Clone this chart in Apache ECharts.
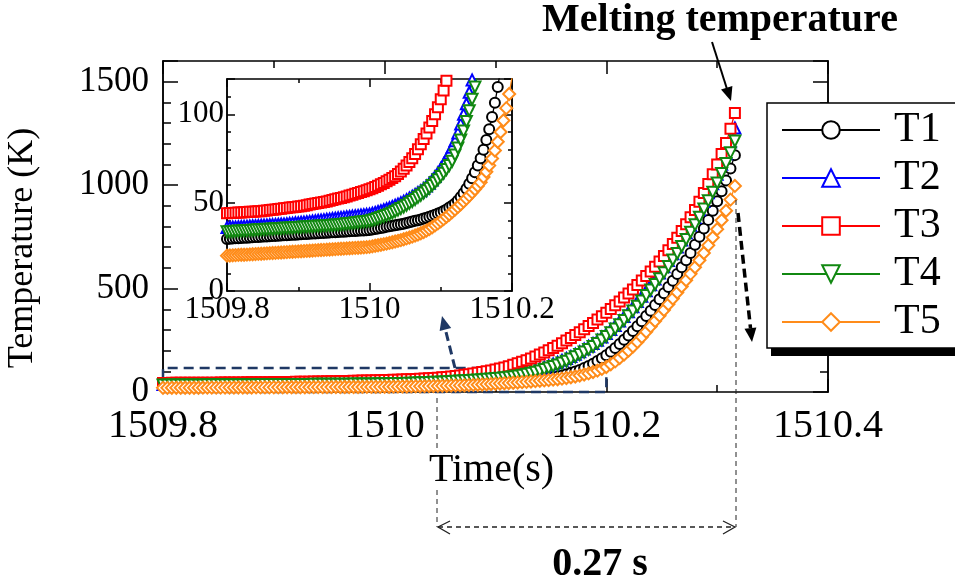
<!DOCTYPE html>
<html>
<head>
<meta charset="utf-8">
<script src="https://cdn.jsdelivr.net/npm/echarts@6/dist/echarts.min.js"></script>
<style>
  html, body { margin: 0; padding: 0; background: #fff; }
  #chart { width: 955px; height: 578px; }
</style>
</head>
<body>
<div id="chart"></div>
<script>
  // sampling times (s)
  var times = [
    1509.800, 1509.804, 1509.808, 1509.812, 1509.816, 1509.820, 1509.824, 1509.828, 1509.832, 1509.836,
    1509.840, 1509.844, 1509.848, 1509.852, 1509.856, 1509.860, 1509.864, 1509.868, 1509.872, 1509.876,
    1509.880, 1509.884, 1509.888, 1509.892, 1509.896, 1509.900, 1509.904, 1509.908, 1509.912, 1509.916,
    1509.920, 1509.924, 1509.928, 1509.932, 1509.936, 1509.940, 1509.944, 1509.948, 1509.952, 1509.956,
    1509.960, 1509.964, 1509.968, 1509.972, 1509.976, 1509.980, 1509.984, 1509.988, 1509.992, 1509.996,
    1510.000, 1510.004, 1510.008, 1510.012, 1510.016, 1510.020, 1510.024, 1510.028, 1510.032, 1510.036,
    1510.040, 1510.044, 1510.048, 1510.052, 1510.056, 1510.060, 1510.064, 1510.068, 1510.072, 1510.076,
    1510.080, 1510.084, 1510.088, 1510.092, 1510.096, 1510.100, 1510.104, 1510.108, 1510.112, 1510.116,
    1510.120, 1510.124, 1510.128, 1510.132, 1510.136, 1510.140, 1510.144, 1510.148, 1510.152, 1510.156,
    1510.160, 1510.164, 1510.168, 1510.172, 1510.176, 1510.180, 1510.184, 1510.188, 1510.192, 1510.196,
    1510.200, 1510.204, 1510.208, 1510.212, 1510.216, 1510.220, 1510.224, 1510.228, 1510.232, 1510.236,
    1510.240, 1510.244, 1510.248, 1510.252, 1510.256, 1510.260, 1510.264, 1510.268, 1510.272, 1510.276,
    1510.280, 1510.284, 1510.288, 1510.292, 1510.296, 1510.300, 1510.304, 1510.308, 1510.312, 1510.316
  ]

  // temperatures (K)
  var t1 = [
    29.5, 29.6, 29.7, 29.8, 29.9, 30.0, 30.1, 30.2, 30.3, 30.4,
    30.5, 30.6, 30.7, 30.8, 30.9, 31.0, 31.1, 31.2, 31.3, 31.4,
    31.5, 31.6, 31.7, 31.8, 31.9, 32.0, 32.1, 32.2, 32.3, 32.4,
    32.5, 32.6, 32.7, 32.8, 32.9, 33.0, 33.1, 33.2, 33.3, 33.4,
    33.5, 33.6, 33.7, 33.8, 33.9, 34.0, 34.1, 34.2, 34.3, 34.4,
    34.5, 34.8, 35.1, 35.4, 35.7, 36.0, 36.3, 36.6, 36.9, 37.2,
    37.5, 37.8, 38.1, 38.5, 38.9, 39.3, 39.7, 40.1, 40.5, 41.0,
    41.5, 42.0, 42.6, 43.2, 43.8, 44.5, 45.3, 46.2, 47.2, 48.3,
    49.5, 51.2, 53.2, 55.4, 57.9, 60.7, 63.8, 67.2, 71.0, 75.2,
    80, 85.5, 91.5, 98.5, 106.5, 115.5, 125.5, 137, 149.5, 163,
    178, 195, 213, 232, 252, 273, 295, 318, 342, 367,
    393, 420, 448, 477, 507, 538, 570, 603, 637, 672,
    712, 750, 790, 832, 876, 922, 970, 1022, 1080, 1145
  ]
  var t2 = [
    36.0, 36.1, 36.2, 36.3, 36.4, 36.5, 36.6, 36.7, 36.8, 36.9,
    37.0, 37.1, 37.2, 37.3, 37.4, 37.5, 37.6, 37.7, 37.8, 37.9,
    38.0, 38.1, 38.3, 38.4, 38.6, 38.7, 38.9, 39.0, 39.2, 39.4,
    39.6, 39.8, 40.0, 40.2, 40.4, 40.6, 40.8, 41.0, 41.2, 41.4,
    41.6, 41.8, 42.0, 42.2, 42.4, 42.6, 42.8, 43.0, 43.2, 43.4,
    43.6, 44.0, 44.5, 45.0, 45.5, 46.0, 46.6, 47.2, 47.8, 48.5,
    49.2, 50.0, 50.8, 51.7, 52.6, 53.6, 54.6, 55.7, 56.8, 58.0,
    59.4, 61.0, 62.8, 64.8, 67.0, 69.4, 72.0, 74.9, 78.0, 81.4,
    85.0, 89.5, 94.5, 100, 106, 112.5, 119.5, 127, 135, 144,
    153, 162, 172, 183, 195, 208, 221, 235, 250, 266,
    283, 302, 322, 343, 365, 388, 412, 437, 463, 490,
    518, 546, 575, 605, 636, 668, 701, 735, 770, 806,
    843, 881, 921, 963, 1007, 1053, 1101, 1152, 1210, 1276
  ]
  var t3 = [
    44.0, 44.1, 44.2, 44.3, 44.4, 44.5, 44.6, 44.7, 44.8, 44.9,
    45.0, 45.1, 45.2, 45.4, 45.6, 45.8, 46.0, 46.2, 46.4, 46.6,
    46.8, 47.0, 47.2, 47.4, 47.6, 47.8, 48.0, 48.3, 48.6, 48.9,
    49.2, 49.5, 49.8, 50.1, 50.4, 50.7, 51.1, 51.5, 51.9, 52.3,
    52.7, 53.1, 53.5, 54.0, 54.5, 55.0, 55.5, 56.0, 56.5, 57.0,
    57.6, 58.2, 58.9, 59.6, 60.4, 61.2, 62.1, 63.0, 64.0, 65.0,
    66.2, 67.6, 69.2, 71.0, 73.0, 75.2, 77.6, 80.2, 83.0, 86.0,
    89.2, 92.6, 96.2, 100, 104, 108.5, 113.5, 119, 125, 131.5,
    138.5, 146, 154, 162.5, 171.5, 181, 191, 201.5, 212.5, 224,
    236, 248.5, 261.5, 275, 289, 303.5, 318.5, 334, 350, 366.5,
    383.5, 401, 419, 437.5, 456.5, 476, 496, 517, 538.5, 560.5,
    582, 606, 631, 657, 685, 715, 746, 778, 811, 845,
    880, 920, 962, 1006, 1052, 1100, 1150, 1204, 1272, 1349
  ]
  var t4 = [
    33.5, 33.6, 33.7, 33.8, 33.9, 34.0, 34.1, 34.2, 34.3, 34.4,
    34.5, 34.6, 34.7, 34.8, 34.9, 35.0, 35.1, 35.2, 35.3, 35.4,
    35.5, 35.6, 35.7, 35.8, 35.9, 36.0, 36.1, 36.2, 36.3, 36.4,
    36.5, 36.6, 36.7, 36.8, 36.9, 37.0, 37.1, 37.2, 37.3, 37.4,
    37.6, 37.8, 38.0, 38.2, 38.4, 38.6, 38.8, 39.0, 39.2, 39.4,
    39.6, 40.0, 40.5, 41.0, 41.6, 42.2, 42.8, 43.5, 44.2, 45.0,
    45.8, 46.7, 47.6, 48.6, 49.6, 50.7, 51.8, 53.0, 54.2, 55.5,
    56.8, 58.2, 59.7, 61.3, 63.0, 64.8, 66.7, 68.8, 71.0, 73.5,
    77, 81, 85.5, 90.5, 96, 102, 108.5, 115.5, 123, 131,
    140, 149, 159, 170, 181, 193, 206, 220, 235, 251,
    268, 286, 305, 325, 346, 368, 391, 415, 440, 466,
    493, 520, 548, 577, 607, 638, 670, 703, 737, 772,
    808, 845, 884, 924, 966, 1010, 1056, 1104, 1156, 1213
  ]
  var t5 = [
    20.0, 20.1, 20.2, 20.3, 20.4, 20.5, 20.5, 20.6, 20.7, 20.8,
    20.9, 21.0, 21.1, 21.2, 21.3, 21.4, 21.5, 21.6, 21.7, 21.8,
    21.9, 22.0, 22.1, 22.2, 22.3, 22.4, 22.5, 22.6, 22.7, 22.8,
    22.9, 23.0, 23.1, 23.2, 23.3, 23.4, 23.5, 23.6, 23.7, 23.8,
    23.9, 24.0, 24.1, 24.2, 24.3, 24.4, 24.5, 24.6, 24.7, 24.8,
    25.0, 25.3, 25.6, 25.9, 26.2, 26.5, 26.8, 27.2, 27.6, 28.0,
    28.4, 28.8, 29.3, 29.8, 30.3, 30.8, 31.4, 32.0, 32.7, 33.4,
    34.2, 35.1, 36.1, 37.2, 38.3, 39.5, 40.7, 42.0, 43.3, 44.7,
    46.1, 47.6, 49.1, 50.7, 52.3, 54.0, 55.8, 57.6, 59.5, 61.5,
    64.5, 67.5, 71, 75, 79.5, 84.5, 90, 96.5, 103.5, 111.5,
    121, 134, 148, 164, 181, 200, 220, 242, 266, 291,
    317, 343, 369, 396, 424, 452, 481, 510, 540, 571,
    603, 637, 672, 709, 747, 787, 830, 876, 930, 996
  ]

  var seriesNames = ['T1', 'T2', 'T3', 'T4', 'T5']
  var seriesValues = [t1, t2, t3, t4, t5]
  var seriesColors = ['#000000', '#0000ff', '#ff0000', '#118811', '#ff8c1a']
  var seriesSymbols = ['emptyCircle', 'emptyTriangle', 'emptyRect', 'emptyTriangle', 'emptyDiamond']
  var symbolRotates = [0, 0, 0, 180, 0]
  var symbolSizes = [10, 11, 10, 11, 12]

  var serif = 'Liberation Serif'
  var black = { color: '#000', width: 1.5 }

  var chart = echarts.init(document.getElementById('chart'))

  function makeSeries (i, xi, yi) {
    var vals = seriesValues[i]
    return {
      name: seriesNames[i],
      type: 'line',
      xAxisIndex: xi,
      yAxisIndex: yi,
      data: times.map(function (t, k) { return [t, vals[k]] }),
      symbol: seriesSymbols[i],
      symbolSize: symbolSizes[i],
      symbolRotate: symbolRotates[i],
      showSymbol: true,
      itemStyle: { color: seriesColors[i], borderWidth: 1.3 },
      lineStyle: { color: seriesColors[i], width: 1.3 },
      emphasis: { disabled: true },
      silent: true,
      z: 3
    }
  }

  var series = []
  for (var i = 0; i < 5; i++) series.push(makeSeries(i, 0, 0))
  for (var j = 0; j < 5; j++) series.push(makeSeries(j, 2, 4))

  // dashed box showing the zoomed region
  series[0].markArea = {
    silent: true,
    itemStyle: {
      color: 'rgba(0,0,0,0)',
      borderColor: '#1f3864',
      borderWidth: 2.5,
      borderType: [10, 6]
    },
    data: [[{ coord: [1509.8, 0] }, { coord: [1510.2, 116] }]]
  }

  function xAxisOf (grid, min, max, pos, major, minor, label) {
    return {
      gridIndex: grid,
      type: 'value',
      min: min,
      max: max,
      interval: 0.2,
      position: pos,
      axisLine: { show: true, onZero: false, lineStyle: black },
      axisTick: { show: true, inside: true, length: major, lineStyle: black },
      minorTick: { show: true, splitNumber: 2, length: minor, lineStyle: black },
      splitLine: { show: false },
      axisLabel: label || { show: false }
    }
  }

  function yAxisOf (grid, max, interval, pos, len, label) {
    return {
      gridIndex: grid,
      type: 'value',
      min: 0,
      max: max,
      interval: interval,
      position: pos,
      axisLine: { show: true, onZero: false, lineStyle: black },
      axisTick: { show: true, inside: true, length: len, lineStyle: black },
      splitLine: { show: false },
      axisLabel: label || { show: false }
    }
  }

  function xFmt (v) { return String(Math.round(v * 10) / 10) }

  var xMain = xAxisOf(0, 1509.8, 1510.4, 'bottom', 13, 7, {
    fontFamily: serif, fontSize: 40, color: '#000', margin: 14, formatter: xFmt
  })
  xMain.name = 'Time(s)'
  xMain.nameLocation = 'middle'
  xMain.nameGap = 56
  xMain.nameTextStyle = { fontFamily: serif, fontSize: 40, color: '#000', padding: [0, 8, 0, 0] }

  var yMain = yAxisOf(0, 1600, 100, 'left', 8, {
    fontFamily: serif, fontSize: 35, color: '#000', margin: 14,
    formatter: function (v) { return v % 500 === 0 ? String(v) : '' }
  })

  var yInset = yAxisOf(1, 120, 10, 'left', 4, {
    fontFamily: serif, fontSize: 31, color: '#000', margin: 3,
    formatter: function (v) { return v % 50 === 0 ? String(v) : '' }
  })

  var option = {
    animation: false,
    backgroundColor: '#fff',
    grid: [
      { left: 163, top: 61, width: 665, height: 331, outerBoundsMode: 'none' },
      { left: 227, top: 79, width: 285, height: 212, outerBoundsMode: 'none' }
    ],
    xAxis: [
      xMain,
      xAxisOf(0, 1509.8, 1510.4, 'top', 13, 7),
      xAxisOf(1, 1509.8, 1510.2, 'bottom', 8, 4, {
        fontFamily: serif, fontSize: 31, color: '#000', margin: 3, formatter: xFmt
      }),
      xAxisOf(1, 1509.8, 1510.2, 'top', 8, 4)
    ],
    yAxis: [
      yMain,
      yAxisOf(0, 1600, 500, 'left', 15),
      yAxisOf(0, 1600, 100, 'right', 8),
      yAxisOf(0, 1600, 500, 'right', 15),
      yInset,
      yAxisOf(1, 120, 50, 'left', 8),
      yAxisOf(1, 120, 10, 'right', 4),
      yAxisOf(1, 120, 50, 'right', 8)
    ],
    legend: {
      data: seriesNames,
      orient: 'vertical',
      left: 767,
      top: 103,
      itemWidth: 98,
      itemHeight: 22,
      itemGap: 6,
      padding: [6, 10, 6, 14],
      selectedMode: false,
      z: 6,
      textStyle: { fontFamily: serif, fontSize: 42, lineHeight: 42, color: '#000', padding: [0, 0, 0, 9] }
    },
    graphic: [
      // legend frame with its drop shadow, running off the right edge
      { type: 'rect', z: 1, shape: { x: 771, y: 111, width: 230, height: 245 }, style: { fill: '#000' } },
      { type: 'rect', z: 2, shape: { x: 767, y: 103, width: 230, height: 245 },
        style: { fill: '#fff', stroke: '#000', lineWidth: 1.5 } },
      { type: 'text', x: 23, y: 248, rotation: Math.PI / 2, z: 10,
        style: { text: 'Temperature (K)', fontFamily: serif, fontSize: 36, fill: '#000', align: 'center', verticalAlign: 'middle' } },
      { type: 'text', x: 720, y: 21, z: 10,
        style: { text: 'Melting temperature', fontFamily: serif, fontSize: 40, fontWeight: 'bold', fill: '#000', align: 'center', verticalAlign: 'middle' } },
      // arrow to melting point
      { type: 'line', z: 10, shape: { x1: 712, y1: 42, x2: 727, y2: 89 }, style: { stroke: '#000', lineWidth: 2 } },
      { type: 'polygon', z: 10, shape: { points: [[731, 101], [732.4, 85.9], [721.0, 89.5]] }, style: { fill: '#000' } },
      // arrow from box to inset
      { type: 'line', z: 10, shape: { x1: 455, y1: 368, x2: 445.4, y2: 329.6 }, style: { stroke: '#1f3864', lineWidth: 3, lineDash: [9, 5] } },
      { type: 'polygon', z: 10, shape: { points: [[442, 316], [451.2, 328.1], [439.6, 331.1]] }, style: { fill: '#1f3864' } },
      // arrow towards legend
      { type: 'line', z: 10, shape: { x1: 738, y1: 213, x2: 750.5, y2: 328.1 }, style: { stroke: '#000', lineWidth: 3.5, lineDash: [9, 5] } },
      { type: 'polygon', z: 10, shape: { points: [[752, 342], [756.4, 327.4], [744.5, 328.8]] }, style: { fill: '#000' } },
      // vertical guides
      { type: 'line', z: 10, shape: { x1: 437, y1: 398, x2: 437, y2: 452 }, style: { stroke: '#222', lineWidth: 1, lineDash: [5, 4] } },
      { type: 'line', z: 10, shape: { x1: 437, y1: 490, x2: 437, y2: 527 }, style: { stroke: '#222', lineWidth: 1, lineDash: [5, 4] } },
      { type: 'line', z: 10, shape: { x1: 736, y1: 200, x2: 736, y2: 527 }, style: { stroke: '#222', lineWidth: 1, lineDash: [5, 4] } },
      // 0.27 s span
      { type: 'line', z: 10, shape: { x1: 438, y1: 527, x2: 735, y2: 527 }, style: { stroke: '#222', lineWidth: 1.3, lineDash: [5, 4] } },
      { type: 'polyline', z: 10, shape: { points: [[450, 521], [438, 527], [450, 534]] }, style: { stroke: '#222', lineWidth: 1.3, fill: null } },
      { type: 'polyline', z: 10, shape: { points: [[723, 521], [735, 527], [723, 534]] }, style: { stroke: '#222', lineWidth: 1.3, fill: null } },
      { type: 'text', x: 600, y: 565, z: 10,
        style: { text: '0.27 s', fontFamily: serif, fontSize: 40, fontWeight: 'bold', fill: '#000', align: 'center', verticalAlign: 'middle' } }
    ],
    series: series
  }

  chart.setOption(option)
</script>
</body>
</html>
